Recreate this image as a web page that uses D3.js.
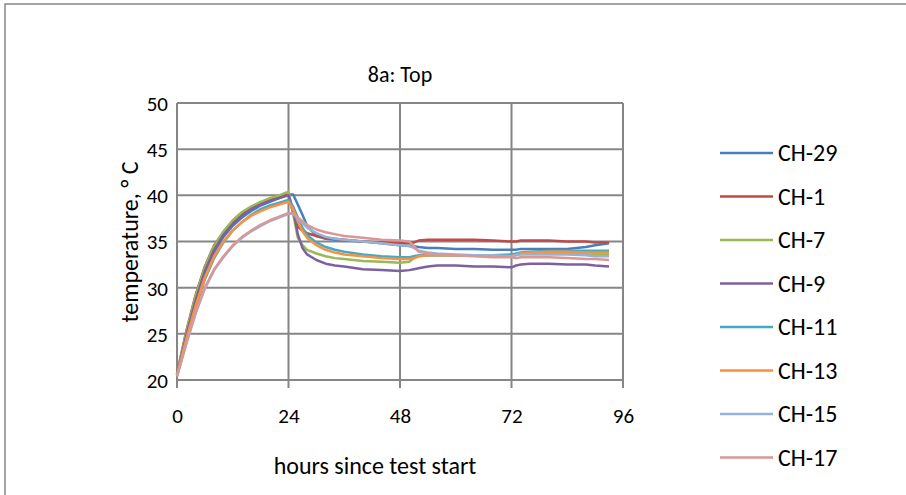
<!DOCTYPE html>
<html><head><meta charset="utf-8">
<script src="https://d3js.org/d3.v7.min.js"></script>
<style>body{margin:0;background:#fff}svg{display:block}text{font-family:Carlito,Lato,"Open Sans",sans-serif;fill:#000}</style>
</head><body>
<svg id="c" width="906" height="495"></svg>
<script>
const title = "8a: Top";
const xLabel = "hours since test start";
const yLabel = "temperature, ° C";
const xTicks = [0, 24, 48, 72, 96];
const yTicks = [20, 25, 30, 35, 40, 45, 50];
const hours = [0,2,4,6,8,10,12,14,16,18,20,22,24,25,26,27,28,30,32,34,36,40,44,48,50,51,52,54,56,60,64,68,72,73,74,76,80,84,88,90,93];
const seriesNames = ["CH-29","CH-1","CH-7","CH-9","CH-11","CH-13","CH-15","CH-17"];
const seriesColors = ["#4A7EBB","#BE4B48","#98B954","#7D60A0","#46AAC5","#F69240","#95B3D7","#D99795"];
const ch29 = [20.6,24.5,28.3,31.5,33.8,35.5,36.7,37.6,38.3,38.9,39.3,39.7,40.1,40.1,39.0,37.9,36.7,35.6,35.3,35.2,35.1,35.0,34.8,34.6,34.5,34.5,34.4,34.3,34.3,34.2,34.2,34.1,34.1,34.1,34.2,34.2,34.2,34.2,34.4,34.6,34.8];
const ch1  = [20.7,25.3,29.2,32.3,34.6,36.0,37.2,38.0,38.6,39.1,39.5,39.8,40.1,38.0,36.6,36.2,35.9,35.6,35.4,35.3,35.2,35.0,34.9,34.8,34.8,34.9,35.1,35.2,35.2,35.2,35.2,35.1,35.0,35.0,35.1,35.1,35.1,35.0,35.0,34.9,34.9];
const ch7  = [20.6,25.2,29.1,32.2,34.5,36.1,37.3,38.2,38.8,39.3,39.7,40.0,40.4,38.0,35.4,34.6,34.1,33.7,33.4,33.2,33.1,32.9,32.8,32.7,32.8,33.2,33.4,33.5,33.5,33.5,33.5,33.5,33.5,33.6,33.7,33.7,33.7,33.7,33.6,33.6,33.6];
const ch9  = [20.5,24.8,28.6,31.8,34.1,35.7,36.9,37.8,38.5,39.0,39.4,39.7,40.0,38.5,35.8,34.3,33.6,33.0,32.6,32.4,32.3,32.0,31.9,31.8,31.9,32.0,32.1,32.3,32.4,32.4,32.3,32.3,32.2,32.4,32.5,32.6,32.6,32.5,32.5,32.4,32.3];
const ch11 = [20.5,24.2,27.8,30.9,33.2,34.9,36.2,37.1,37.9,38.5,38.9,39.2,39.5,38.8,37.6,36.5,35.7,34.9,34.4,34.1,33.9,33.6,33.4,33.3,33.3,33.4,33.5,33.5,33.5,33.5,33.5,33.5,33.6,33.7,33.8,33.9,34.0,34.0,34.0,34.0,34.0];
const ch13 = [20.5,24.4,28.0,31.1,33.4,35.0,36.2,37.1,37.8,38.3,38.7,39.0,39.3,38.5,37.2,36.1,35.4,34.6,34.1,33.8,33.6,33.4,33.2,33.1,33.1,33.2,33.4,33.5,33.5,33.5,33.5,33.4,33.4,33.6,33.7,33.8,33.9,33.9,33.8,33.8,33.8];
const ch15 = [20.4,23.9,27.2,29.9,31.9,33.3,34.5,35.4,36.1,36.7,37.2,37.6,38.0,38.0,37.5,37.0,36.5,35.9,35.5,35.3,35.2,35.0,34.8,34.6,34.5,34.3,34.0,33.8,33.7,33.6,33.5,33.5,33.4,33.5,33.6,33.6,33.6,33.6,33.5,33.4,33.4];
const ch17 = [20.4,24.0,27.3,30.0,32.0,33.4,34.6,35.5,36.2,36.8,37.3,37.7,38.1,38.0,37.6,37.2,36.8,36.3,36.0,35.8,35.6,35.4,35.2,35.1,35.0,34.5,33.9,33.7,33.6,33.5,33.4,33.3,33.3,33.2,33.3,33.3,33.3,33.2,33.1,33.1,33.0];
const seriesValues = [ch29, ch1, ch7, ch9, ch11, ch13, ch15, ch17];

const FS = "21px", FL = "24px", FT = "22px";
const svg = d3.select("#c");
svg.append("rect").attr("x",5).attr("y",4).attr("width",920).attr("height",510)
  .attr("fill","#fff").attr("stroke","#878787").attr("stroke-width",1.5);

const L=177, R=623, T=103, B=380;
const x = d3.scaleLinear().domain([0,96]).range([L,R]);
const y = d3.scaleLinear().domain([20,50]).range([B,T]);
const gridCol = "#868686";

const g = svg.append("g");
g.selectAll("line.hg").data(yTicks).join("line")
  .attr("x1",L).attr("x2",R).attr("y1",d=>y(d)).attr("y2",d=>y(d))
  .attr("stroke",gridCol).attr("stroke-width",2);
g.selectAll("line.vg").data(xTicks).join("line")
  .attr("x1",d=>x(d)).attr("x2",d=>x(d)).attr("y1",T).attr("y2",B+8)
  .attr("stroke",gridCol).attr("stroke-width",2);

const yAxis = svg.append("g").attr("transform",`translate(${L-9},0)`)
  .call(d3.axisLeft(y).tickValues(yTicks).tickSize(0).tickPadding(0));
yAxis.select(".domain").remove();
yAxis.selectAll("text").style("font-size",FS).attr("dy","0.35em");

const xAxis = svg.append("g").attr("transform",`translate(0,${B+28})`)
  .call(d3.axisBottom(x).tickValues(xTicks).tickSize(0).tickPadding(0));
xAxis.select(".domain").remove();
xAxis.selectAll("text").style("font-size",FS).attr("dy","0.71em");

const line = d3.line().x((d,i)=>x(hours[i])).y(d=>y(d));
svg.append("g").selectAll("path").data(seriesValues).join("path")
  .attr("d",d=>line(d)).attr("fill","none")
  .attr("stroke",(d,i)=>seriesColors[i]).attr("stroke-width",2.5)
  .attr("stroke-linejoin","round");

svg.append("text").attr("x",400).attr("y",74).attr("text-anchor","middle")
  .attr("dy","0.35em").style("font-size",FT).text(title);
svg.append("text").attr("x",375).attr("y",466).attr("text-anchor","middle")
  .attr("dy","0.35em").style("font-size",FL).text(xLabel);
svg.append("text").attr("transform","translate(130,242) rotate(-90)").attr("text-anchor","middle")
  .attr("dy","0.35em").style("font-size",FL).text(yLabel);

const leg = svg.append("g").selectAll("g").data(seriesNames).join("g")
  .attr("transform",(d,i)=>`translate(720,${153+i*43.5})`);
leg.append("line").attr("x1",0).attr("x2",53).attr("stroke",(d,i)=>seriesColors[i]).attr("stroke-width",2.5);
leg.append("text").attr("x",58).attr("dy","0.35em").style("font-size",FL).text(d=>d);
</script>
</body></html>
